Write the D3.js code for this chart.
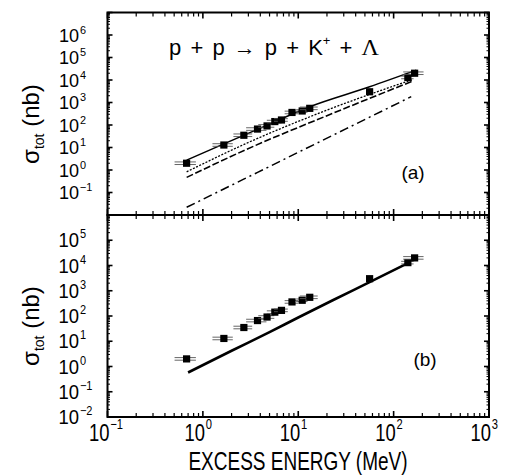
<!DOCTYPE html>
<html><head><meta charset="utf-8">
<script src="https://cdn.jsdelivr.net/npm/d3@7"></script>
<style>body{margin:0;background:#fff}svg{display:block}</style>
</head><body>
<svg id="c" width="505" height="475"></svg>
<script>
// ---- data ----
const energy = [0.675, 1.66, 2.69, 3.74, 4.71, 5.68, 6.67, 8.6, 11.0, 13.2, 56, 141, 166];
const sigma  = [2.0, 12.9, 35, 66, 91, 142, 167, 361, 420, 550, 3000, 13000, 20000];
const energyErr = [0.17, 0.4, 0.6, 0.9, 0.9, 1.0, 1.1, 1.4, 1.5, 2.8, 2, 21, 40];

const solidE = [0.676, 1.66, 5.0, 13.2, 56, 173];
const solidS = [2.75, 14.5, 110, 650, 5000, 27500];
const dottedE = [0.676, 2.88, 22.4, 158];
const dottedS = [0.83, 15.5, 550, 10500];
const dashedE = [0.676, 2.88, 22.4, 158];
const dashedS = [0.47, 8.3, 316, 8900];
const dashdotE = [0.676, 10, 153];
const dashdotS = [0.022, 6.1, 1820];
const fitBE = [0.7, 2, 5, 10, 23, 56, 150];
const fitBS = [0.58, 4.2, 23, 87, 420, 2200, 14000];

const xTickExps = [-1, 0, 1, 2, 3];
const yTickExpsA = [-1, 0, 1, 2, 3, 4, 5, 6];
const yTickExpsB = [-2, -1, 0, 1, 2, 3, 4, 5];

// ---- scales ----
const svg = d3.select("#c");
const L = 107.5, R = 489, T = 12.5, M = 215, B = 417;
const x = d3.scaleLog().domain([0.1, 1000]).range([L, R]);
const yA = d3.scaleLog().domain([0.01, 1e7]).range([M, T]);
const yB = d3.scaleLog().domain([0.01, 1e6]).range([B, M]);
const FONT = "'Liberation Sans', Arial, Helvetica, sans-serif";

function ticksLog(lo, hi) {
  const out = [];
  for (let k = lo; k < hi; k++) for (let m = 1; m <= 9; m++) out.push({v: m * Math.pow(10, k), major: m === 1});
  out.push({v: Math.pow(10, hi), major: true});
  return out;
}

function powLabel(parent, px, py, e, size, sx, supSize, supDy) {
  const lg = parent.append("g").attr("transform", `translate(${px},${py}) scale(${sx},1)`);
  const t = lg.append("text").attr("x", -2 * 0.556 * size).attr("font-family", FONT).attr("font-size", size);
  t.append("tspan").text("10");
  t.append("tspan").attr("font-size", supSize).attr("dx", 1).attr("dy", -supDy).text(String(e).replace("-", "\u2212"));
}

function panel(y, yLo, yHi, top, bot, yExps, lab, curves, label, labPos, yLabelY) {
  const g = svg.append("g");
  ticksLog(-1, 3).forEach(t => {
    const px = x(t.v), len = t.major ? 6 : 4;
    g.append("line").attr("x1", px).attr("x2", px).attr("y1", bot).attr("y2", bot - len)
      .attr("stroke", "#000").attr("stroke-width", t.major ? 1.6 : 1.2);
    g.append("line").attr("x1", px).attr("x2", px).attr("y1", top).attr("y2", top + len)
      .attr("stroke", "#000").attr("stroke-width", t.major ? 1.6 : 1.2);
  });
  ticksLog(yLo, yHi).forEach(t => {
    const py = y(t.v), len = t.major ? 5 : 2.5;
    g.append("line").attr("x1", L).attr("x2", L + len).attr("y1", py).attr("y2", py)
      .attr("stroke", "#000").attr("stroke-width", t.major ? 1.6 : 1);
    g.append("line").attr("x1", R).attr("x2", R - len).attr("y1", py).attr("y2", py)
      .attr("stroke", "#000").attr("stroke-width", t.major ? 1.6 : 1);
  });
  g.append("rect").attr("x", L).attr("y", top).attr("width", R - L).attr("height", bot - top)
    .attr("fill", "none").attr("stroke", "#000").attr("stroke-width", 2);
  yExps.forEach(e => powLabel(g, 79, y(Math.pow(10, e)) + lab.dy, e, lab.size, lab.sx, lab.sup, lab.supDy));
  const line = d3.line().x(d => x(d[0])).y(d => y(d[1])).curve(d3.curveMonotoneX);
  curves.forEach(c => {
    g.append("path").attr("d", line(d3.zip(c.e, c.s))).attr("fill", "none").attr("stroke", "#000")
      .attr("stroke-width", c.w).attr("stroke-dasharray", c.dash || null);
  });
  energy.forEach((e, i) => {
    const px = x(e), py = y(sigma[i]);
    const x0 = x(e - energyErr[i]), x1 = x(e + energyErr[i]);
    [-1.3, 1.3].forEach(o => g.append("line").attr("x1", x0).attr("x2", x1).attr("y1", py + o).attr("y2", py + o)
      .attr("stroke", "#555").attr("stroke-width", 0.9));
    g.append("rect").attr("x", px - 3.6).attr("y", py - 3.6).attr("width", 7.2).attr("height", 7.2).attr("fill", "#000");
  });
  g.append("text").attr("x", labPos[0]).attr("y", labPos[1]).attr("text-anchor", "middle")
    .attr("font-family", FONT).attr("font-size", 19).text(label);
  const yt = g.append("text").attr("transform", `translate(39,${yLabelY}) rotate(-90)`).attr("text-anchor", "middle")
    .attr("font-family", FONT).attr("font-size", 24);
  yt.append("tspan").text("\u03c3");
  yt.append("tspan").attr("font-size", 14).attr("dy", 5).text("tot");
  yt.append("tspan").attr("dy", -5).text(" (nb)");
}

panel(yA, -2, 7, T, M, yTickExpsA, {size: 19, sx: 0.95, sup: 11.5, supDy: 8, dy: 6.5}, [
  {e: solidE, s: solidS, w: 1.5},
  {e: dottedE, s: dottedS, w: 1.3, dash: "2,1.5"},
  {e: dashedE, s: dashedS, w: 1.6, dash: "7,2.5"},
  {e: dashdotE, s: dashdotS, w: 1.5, dash: "9,4,2,4"}
], "(a)", [413, 179], 124);

panel(yB, -2, 6, M, B, yTickExpsB, {size: 21, sx: 0.88, sup: 12.5, supDy: 9, dy: 7}, [
  {e: fitBE, s: fitBS, w: 2.6}
], "(b)", [425, 366], 326);

xTickExps.forEach(e => powLabel(svg, x(Math.pow(10, e)) + 2, 441, e, 23, 0.8, 14, 12));

svg.append("g").attr("transform", "translate(298,469.5) scale(0.76,1)")
  .append("text").attr("text-anchor", "middle").attr("font-family", FONT).attr("font-size", 25)
  .text("EXCESS ENERGY (MeV)");

const tt = svg.append("text").attr("x", 274).attr("y", 55).attr("text-anchor", "middle")
  .attr("font-family", FONT).attr("font-size", 22).attr("word-spacing", 3);
tt.append("tspan").text("p + p \u2192 p + K");
tt.append("tspan").attr("font-size", 13).attr("dy", -10).text("+");
tt.append("tspan").attr("dy", 10).text(" + ");
tt.append("tspan").attr("font-family", "'Liberation Serif', 'DejaVu Serif', serif").attr("font-size", 24).text("\u039b");
</script>
</body></html>
